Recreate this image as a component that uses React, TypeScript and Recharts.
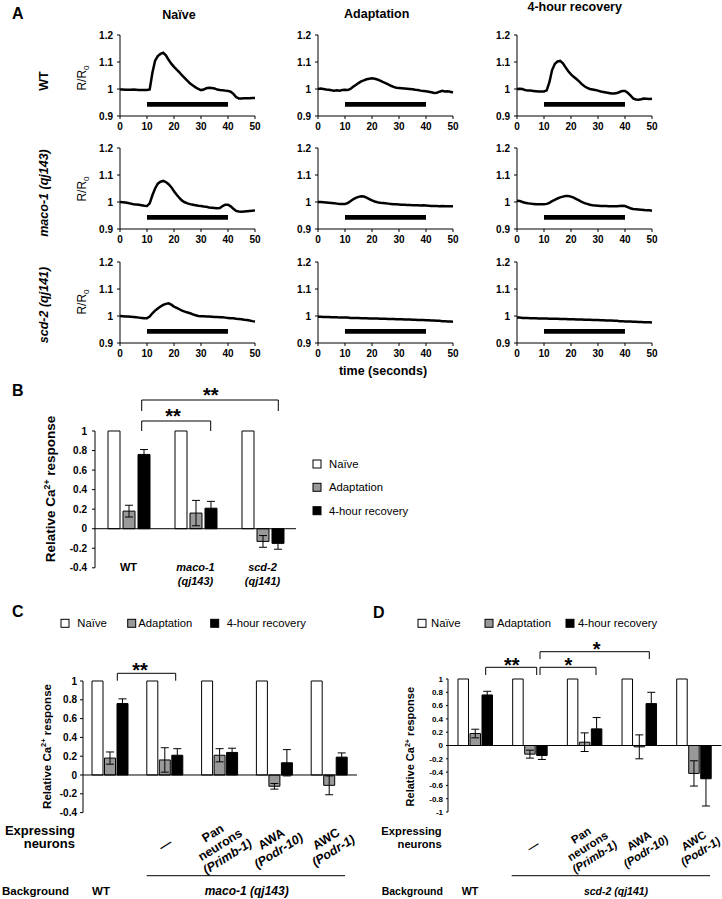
import {
  LineChart,
  Line,
  BarChart,
  Bar,
  ErrorBar,
  XAxis,
  YAxis,
  ReferenceArea,
  ReferenceLine,
} from 'recharts';

const FONT = '"Liberation Sans", Arial, Helvetica, sans-serif';

// ---------- panel A: calcium traces (R/R0 per second) ----------
const timeSec = [
  0, 1, 2, 3, 4, 5, 6, 7, 8, 9, 10, 11, 12, 13, 14, 15, 16, 17, 18, 19, 20, 21, 22, 23, 24, 25,
  26, 27, 28, 29, 30, 31, 32, 33, 34, 35, 36, 37, 38, 39, 40, 41, 42, 43, 44, 45, 46, 47, 48, 49, 50,
];
const timeTicks = [0, 10, 20, 30, 40, 50];
const ratioTicks = [0.9, 1, 1.1, 1.2];

const wtNaive = [
  0.998, 0.998, 0.997, 0.997, 0.997, 0.998, 0.997, 0.996, 0.996, 0.996,
  0.996, 0.998, 1.06, 1.105, 1.122, 1.13, 1.134, 1.125, 1.108, 1.094,
  1.082, 1.072, 1.062, 1.05, 1.04, 1.03, 1.02, 1.013, 1.006, 1.0,
  0.996, 0.998, 1.003, 1.005, 1.004, 1.002, 0.998, 0.996, 0.995, 0.994,
  0.993, 0.99, 0.982, 0.97, 0.965, 0.965, 0.966, 0.966, 0.966, 0.967,
  0.967,
];
const wtAdapt = [
  1.0, 1.002, 1.0, 0.998, 0.997, 0.995, 0.994, 0.995, 0.994, 0.996,
  0.997, 0.996, 1.0, 1.008, 1.015, 1.022, 1.028, 1.032, 1.036, 1.038,
  1.04, 1.038, 1.035, 1.031, 1.026, 1.022, 1.017, 1.012, 1.008, 1.005,
  1.004, 1.003, 1.002, 1.001, 1.0, 0.999, 0.997, 0.996, 0.994, 0.993,
  0.992, 0.99, 0.988, 0.985, 0.986, 0.99, 0.993, 0.991, 0.992, 0.99,
  0.987,
];
const wtRecovery = [
  1.0, 1.001, 1.0, 0.996, 0.994, 0.994, 0.993, 0.992, 0.991, 0.991,
  0.991, 0.995, 1.025, 1.07, 1.093, 1.102, 1.104, 1.095, 1.08, 1.066,
  1.054, 1.045, 1.037, 1.028, 1.018, 1.01, 1.004, 1.0, 0.998, 0.996,
  0.994, 0.991, 0.989, 0.987, 0.985, 0.983, 0.983, 0.985, 0.989, 0.993,
  0.993, 0.986, 0.976, 0.965, 0.961, 0.96, 0.962, 0.965, 0.964, 0.963,
  0.964,
];
const macoNaive = [
  1.0, 0.999, 0.998, 0.996, 0.994, 0.992, 0.991, 0.99, 0.988, 0.986,
  0.985, 0.995, 1.025, 1.05, 1.068, 1.075, 1.078, 1.074, 1.066, 1.055,
  1.04, 1.027, 1.015, 1.005, 0.999, 0.995, 0.992, 0.99, 0.988, 0.986,
  0.985, 0.983, 0.982, 0.98, 0.979, 0.978, 0.977, 0.978, 0.985, 0.99,
  0.99, 0.984, 0.975, 0.967, 0.965, 0.964, 0.965, 0.966, 0.967, 0.968,
  0.969,
];
const macoAdapt = [
  1.0, 1.0, 0.999, 0.998, 0.997, 0.996, 0.995, 0.994, 0.993, 0.993,
  0.993, 0.996, 1.003, 1.01, 1.015, 1.019, 1.021, 1.02, 1.016, 1.011,
  1.006, 1.002, 0.999, 0.997, 0.996, 0.995, 0.994, 0.993, 0.992, 0.992,
  0.991, 0.99, 0.99, 0.989, 0.989, 0.988, 0.988, 0.988, 0.987, 0.988,
  0.987, 0.986, 0.985, 0.985, 0.985, 0.984, 0.985, 0.984, 0.984, 0.984,
  0.984,
];
const macoRecovery = [
  1.005, 1.004, 1.0, 0.997, 0.995, 0.994, 0.993, 0.992, 0.992, 0.992,
  0.992, 0.993, 0.997, 1.003, 1.008, 1.013, 1.017, 1.02, 1.022, 1.022,
  1.02, 1.016, 1.011, 1.006, 1.0, 0.996, 0.993, 0.99, 0.988, 0.987,
  0.986, 0.985, 0.985, 0.985, 0.984, 0.984, 0.984, 0.984, 0.985, 0.986,
  0.985, 0.981, 0.977, 0.974, 0.973, 0.972, 0.971, 0.97, 0.969, 0.969,
  0.968,
];
const scdNaive = [
  1.0, 0.999, 0.998, 0.998, 0.997, 0.996, 0.995, 0.994, 0.993, 0.992,
  0.992, 0.998, 1.01, 1.02, 1.028, 1.035, 1.041, 1.045, 1.047, 1.042,
  1.035, 1.03, 1.025, 1.02, 1.016, 1.013, 1.01, 1.006, 1.003, 1.0,
  0.999, 0.999, 0.998, 0.998, 0.997, 0.996, 0.996, 0.995, 0.995, 0.994,
  0.993, 0.992, 0.992, 0.99, 0.989, 0.988, 0.986, 0.985, 0.983, 0.981,
  0.98,
];
const scdAdapt = [
  0.997, 0.997, 0.996, 0.996, 0.996, 0.995, 0.995, 0.995, 0.994, 0.994,
  0.994, 0.994, 0.993, 0.993, 0.993, 0.993, 0.992, 0.992, 0.992, 0.991,
  0.991, 0.991, 0.991, 0.99, 0.99, 0.99, 0.989, 0.989, 0.989, 0.988,
  0.988, 0.988, 0.987, 0.987, 0.987, 0.986, 0.986, 0.985, 0.985, 0.985,
  0.984, 0.984, 0.983, 0.983, 0.982, 0.982, 0.981, 0.981, 0.98, 0.98,
  0.979,
];
const scdRecovery = [
  0.994, 0.994, 0.993, 0.993, 0.993, 0.992, 0.992, 0.992, 0.991, 0.991,
  0.991, 0.991, 0.99, 0.99, 0.99, 0.99, 0.989, 0.989, 0.989, 0.988,
  0.988, 0.988, 0.987, 0.987, 0.987, 0.986, 0.986, 0.986, 0.985, 0.985,
  0.985, 0.984, 0.984, 0.983, 0.983, 0.983, 0.982, 0.982, 0.981, 0.981,
  0.98, 0.98, 0.98, 0.979, 0.979, 0.978, 0.978, 0.977, 0.977, 0.977,
  0.976,
];

const traceGrid = [
  [wtNaive, wtAdapt, wtRecovery],
  [macoNaive, macoAdapt, macoRecovery],
  [scdNaive, scdAdapt, scdRecovery],
];
const conditionTitles = ['Naïve', 'Adaptation', '4-hour recovery'];
const strainLabels = ['WT', 'maco-1 (qj143)', 'scd-2 (qj141)'];

// ---------- panel B ----------
const bGroups = ['WT', 'maco-1 (qj143)', 'scd-2 (qj141)'];
const bNaive = [1, 1, 1];
const bAdapt = [0.18, 0.16, -0.13];
const bAdaptErr = [0.06, 0.13, 0.06];
const bRecovery = [0.76, 0.21, -0.15];
const bRecoveryErr = [0.05, 0.07, 0.06];
const bTicks = [-0.4, -0.2, 0, 0.2, 0.4, 0.6, 0.8, 1];

// ---------- panel C ----------
const cGroups = ['WT', '—', 'Pan neurons (Primb-1)', 'AWA (Podr-10)', 'AWC (Podr-1)'];
const cNaive = [1, 1, 1, 1, 1];
const cAdapt = [0.18, 0.16, 0.21, -0.12, -0.11];
const cAdaptErr = [0.065, 0.13, 0.07, 0.03, 0.1];
const cRecovery = [0.76, 0.21, 0.24, 0.13, 0.19];
const cRecoveryErr = [0.05, 0.07, 0.045, 0.14, 0.045];
const cTicks = [-0.4, -0.2, 0, 0.2, 0.4, 0.6, 0.8, 1];

// ---------- panel D ----------
const dGroups = ['WT', '—', 'Pan neurons (Primb-1)', 'AWA (Podr-10)', 'AWC (Podr-1)'];
const dNaive = [1, 1, 1, 1, 1];
const dAdapt = [0.18, -0.13, 0.05, -0.02, -0.42];
const dAdaptErr = [0.065, 0.06, 0.14, 0.18, 0.19];
const dRecovery = [0.76, -0.15, 0.25, 0.63, -0.5];
const dRecoveryErr = [0.055, 0.06, 0.17, 0.17, 0.41];
const dTicks = [-1, -0.8, -0.6, -0.4, -0.2, 0, 0.2, 0.4, 0.6, 0.8, 1];

const expressLines = [[], ['—'], ['Pan', 'neurons', '(Primb-1)'], ['AWA', '(Podr-10)'], ['AWC', '(Podr-1)']];
const bTickLines = [['WT'], ['maco-1', '(qj143)'], ['scd-2', '(qj141)']];

const legendItems = [
  { label: 'Naïve', fill: '#fff' },
  { label: 'Adaptation', fill: '#999' },
  { label: '4-hour recovery', fill: '#000' },
];

const toRows = (names: string[], n: number[], a: number[], ae: number[], r: number[], re: number[]) =>
  names.map((name, i) => ({
    name,
    naive: n[i],
    adapt: a[i],
    adaptErr: ae[i],
    recovery: r[i],
    recoveryErr: re[i],
  }));

const bRows = toRows(bGroups, bNaive, bAdapt, bAdaptErr, bRecovery, bRecoveryErr);
const cRows = toRows(cGroups, cNaive, cAdapt, cAdaptErr, cRecovery, cRecoveryErr);
const dRows = toRows(dGroups, dNaive, dAdapt, dAdaptErr, dRecovery, dRecoveryErr);

// layout of the trace grid
const COL_X = [120, 318.3, 516.5];
const ROW_Y = [35, 148, 262];
const TRACE_W = 135;
const TRACE_H = 81;

function Trace({ values, col, row }: any) {
  const data = timeSec.map((t, i) => ({ t, r: values[i] }));
  return (
    <div style={{ position: 'absolute', left: COL_X[col] - 30, top: ROW_Y[row] - 5 }}>
      <LineChart
        width={30 + TRACE_W + 12}
        height={5 + TRACE_H + 22}
        data={data}
        margin={{ top: 5, right: 12, bottom: 0, left: 0 }}
      >
        <XAxis
          dataKey='t'
          type='number'
          domain={[0, 50]}
          ticks={timeTicks}
          interval={0}
          height={22}
          stroke='#000'
          tickSize={3}
          tickMargin={4}
          tick={{ fill: '#000', fontSize: 10, fontWeight: 700 }}
        />
        <YAxis
          type='number'
          domain={[0.9, 1.2]}
          ticks={ratioTicks}
          interval={0}
          width={30}
          stroke='#000'
          tickSize={3}
          tickMargin={4}
          tick={{ fill: '#000', fontSize: 10, fontWeight: 700 }}
        />
        <ReferenceArea x1={10} x2={40} y1={0.934} y2={0.952} fill='#000' fillOpacity={1} stroke='none' />
        <Line
          type='linear'
          dataKey='r'
          stroke='#000'
          strokeWidth={2.5}
          dot={false}
          isAnimationActive={false}
        />
      </LineChart>
    </div>
  );
}

const stackTick = (lines: string[][], dy: number, fs: number) => (props: any) => {
  const { x, y, index } = props;
  const ls = lines[index] || [];
  return (
    <text
      x={x}
      y={y + dy}
      textAnchor='middle'
      fontSize={fs}
      fontWeight={700}
      fill='#000'
      fontStyle={index > 0 ? 'italic' : 'normal'}
    >
      {ls.map((l, i) => (
        <tspan key={i} x={x} dy={i === 0 ? 0 : 14}>
          {l}
        </tspan>
      ))}
    </text>
  );
};

const slantTick = (lines: string[][], dx: number, dy: number, fs: number) => (props: any) => {
  const { x, y, index } = props;
  const ls = lines[index] || [];
  const lh = fs * 1.1;
  return (
    <g transform={`translate(${x + dx},${y + dy}) rotate(-32)`}>
      <text textAnchor='middle' fontSize={fs} fontWeight={700} fill='#000'>
        {ls.map((l, i) => (
          <tspan
            key={i}
            x={0}
            y={(i - (ls.length - 1) / 2) * lh + fs * 0.35}
            fontStyle={l.startsWith('(') ? 'italic' : 'normal'}
          >
            {l}
          </tspan>
        ))}
      </text>
    </g>
  );
};

function BarPanel(p: any) {
  const axisW = 40;
  return (
    <div style={{ position: 'absolute', left: p.left - axisW, top: p.top - 5 }}>
      <BarChart
        width={axisW + p.plotW + 1}
        height={5 + p.plotH + p.xHeight}
        data={p.rows}
        margin={{ top: 5, right: 1, bottom: 0, left: 0 }}
        barSize={p.barSize}
        barGap={p.barGap}
      >
        <XAxis
          dataKey='name'
          interval={0}
          axisLine={false}
          tickLine={false}
          tickSize={0}
          tickMargin={0}
          height={p.xHeight}
          tick={p.tick}
        />
        <YAxis
          type='number'
          domain={p.domain}
          ticks={p.ticks}
          interval={0}
          width={axisW}
          stroke='#000'
          tickSize={p.tickSize}
          tickMargin={p.tickMargin}
          tick={{ fill: '#000', fontSize: p.tickFont, fontWeight: 700 }}
        />
        <Bar dataKey='naive' fill='#fff' stroke='#000' strokeWidth={1} isAnimationActive={false} />
        <Bar dataKey='adapt' fill='#999' stroke='#000' strokeWidth={1} isAnimationActive={false}>
          <ErrorBar dataKey='adaptErr' width={4} stroke='#000' strokeWidth={1} />
        </Bar>
        <Bar dataKey='recovery' fill='#000' stroke='#000' strokeWidth={1} isAnimationActive={false}>
          <ErrorBar dataKey='recoveryErr' width={4} stroke='#000' strokeWidth={1} />
        </Bar>
        <ReferenceLine y={0} stroke='#000' strokeWidth={1} />
      </BarChart>
    </div>
  );
}

function Bracket({ x1, x2, y, leg, stars, sx, sy }: any) {
  return (
    <g>
      <path d={`M${x1},${y + leg} V${y} H${x2} V${y + leg}`} fill='none' stroke='#000' strokeWidth={1} />
      <text x={sx} y={sy + 11.5} textAnchor='middle' fontSize={20} fontWeight={700}>
        {stars}
      </text>
    </g>
  );
}

function CaLabel({ x, y, fs }: any) {
  return (
    <text transform={`translate(${x + fs * 0.36},${y}) rotate(-90)`} textAnchor='middle' fontSize={fs} fontWeight={700}>
      Relative Ca
      <tspan fontSize={fs * 0.65} dy={-fs * 0.38}>
        2+
      </tspan>
      <tspan dy={fs * 0.38}> response</tspan>
    </text>
  );
}

function LegendRow({ items }: any) {
  return (
    <g>
      {items.map((it: any) => (
        <g key={it.label}>
          <rect x={it.sx} y={it.cy - 4} width={8} height={8} fill={it.fill} stroke='#000' strokeWidth={1} />
          <text x={it.tx} y={it.cy + 4} fontSize={11.3}>
            {it.label}
          </text>
        </g>
      ))}
    </g>
  );
}

function Overlay() {
  const titleX = [179, 376.7, 574.7];
  const titleY = [18.5, 17.8, 11];
  const rowLabelY = [81, 193, 305];
  const rrY = [78, 189, 302];
  const bLegend = legendItems.map((it, i) => ({ ...it, sx: 313, tx: 329, cy: [464, 487.3, 510.7][i] }));
  const cLegend = legendItems.map((it, i) => ({ ...it, sx: [61, 127.7, 210.7][i], tx: [77.3, 138.3, 226.7][i], cy: 623.3 }));
  const dLegend = legendItems.map((it, i) => ({ ...it, sx: [418, 485, 566][i], tx: [431, 497, 578][i], cy: 623.3 }));
  return (
    <svg width={722} height={899} style={{ position: 'absolute', left: 0, top: 0, pointerEvents: 'none' }}>
      <g fill='#000'>
        <text x={12} y={18.7} fontSize={16} fontWeight={700}>A</text>
        <text x={12} y={396.4} fontSize={16} fontWeight={700}>B</text>
        <text x={12} y={617.4} fontSize={16} fontWeight={700}>C</text>
        <text x={373} y={617.7} fontSize={16} fontWeight={700}>D</text>

        {conditionTitles.map((t, i) => (
          <text key={t} x={titleX[i]} y={titleY[i]} textAnchor='middle' fontSize={12.5} fontWeight={700}>
            {t}
          </text>
        ))}
        {strainLabels.map((s, i) => (
          <text
            key={s}
            transform={`translate(47.5,${rowLabelY[i]}) rotate(-90)`}
            textAnchor='middle'
            fontSize={12.5}
            fontWeight={700}
            fontStyle={i > 0 ? 'italic' : 'normal'}
          >
            {s}
          </text>
        ))}
        {rrY.map((y) => (
          <text key={y} transform={`translate(86,${y}) rotate(-90)`} textAnchor='middle' fontSize={12}>
            R/R
            <tspan fontSize={8} dy={3}>0</tspan>
          </text>
        ))}
        <text x={383} y={374.5} textAnchor='middle' fontSize={12.5} fontWeight={700}>
          time (seconds)
        </text>

        <CaLabel x={50} y={489} fs={13.5} />
        <CaLabel x={46.7} y={746.5} fs={11.5} />
        <CaLabel x={410} y={746.7} fs={11} />

        <LegendRow items={bLegend} />
        <LegendRow items={cLegend} />
        <LegendRow items={dLegend} />

        <Bracket x1={141.7} x2={278.3} y={400} leg={11} stars='**' sx={210.7} sy={390} />
        <Bracket x1={141.7} x2={210.7} y={421} leg={10} stars='**' sx={173} sy={411.7} />
        <Bracket x1={117.3} x2={175.7} y={673.3} leg={7.4} stars='**' sx={140} sy={665} />
        <Bracket x1={485.7} x2={536.7} y={667.3} leg={7.7} stars='**' sx={511.7} sy={660} />
        <Bracket x1={540} x2={596} y={667.3} leg={7.7} stars='*' sx={568.3} sy={660.7} />
        <Bracket x1={540} x2={649.3} y={651.7} leg={7.3} stars='*' sx={596.7} sy={644} />

        <text x={75} y={834.7} textAnchor='end' fontSize={13} fontWeight={700}>Expressing</text>
        <text x={75} y={848.3} textAnchor='end' fontSize={13} fontWeight={700}>neurons</text>
        <text x={2} y={895} fontSize={11.5} fontWeight={700}>Background</text>
        <text x={101} y={895} textAnchor='middle' fontSize={11.5} fontWeight={700}>WT</text>
        <text x={246.7} y={895} textAnchor='middle' fontSize={12} fontWeight={700} fontStyle='italic'>
          maco-1 (qj143)
        </text>
        <line x1={146.7} x2={345} y1={875.7} y2={875.7} stroke='#000' strokeWidth={1} />

        <text x={441.7} y={834.5} textAnchor='end' fontSize={11.2} fontWeight={700}>Expressing</text>
        <text x={441.7} y={848} textAnchor='end' fontSize={11.2} fontWeight={700}>neurons</text>
        <text x={381.7} y={895} fontSize={10.5} fontWeight={700}>Background</text>
        <text x={470} y={895} textAnchor='middle' fontSize={10.7} fontWeight={700}>WT</text>
        <text x={616} y={895} textAnchor='middle' fontSize={10.5} fontWeight={700} fontStyle='italic'>
          scd-2 (qj141)
        </text>
        <line x1={511.7} x2={710} y1={875.7} y2={875.7} stroke='#000' strokeWidth={1} />
      </g>
    </svg>
  );
}

export default function App() {
  return (
    <div
      style={{
        position: 'absolute',
        left: 0,
        top: 0,
        width: 722,
        height: 899,
        overflow: 'hidden',
        background: '#fff',
        fontFamily: FONT,
      }}
    >
      {traceGrid.map((rowVals, row) =>
        rowVals.map((values, col) => <Trace key={`${row}-${col}`} values={values} col={col} row={row} />)
      )}

      <BarPanel
        rows={bRows}
        left={95}
        top={430.5}
        plotW={201}
        plotH={136.8}
        domain={[-0.4, 1]}
        ticks={bTicks}
        barSize={12}
        barGap={3}
        tickFont={10}
        tickSize={3}
        tickMargin={5}
        xHeight={40}
        tick={stackTick(bTickLines, 3.7, 11)}
      />
      <BarPanel
        rows={cRows}
        left={82.7}
        top={680.7}
        plotW={274}
        plotH={131.6}
        domain={[-0.4, 1]}
        ticks={cTicks}
        barSize={11}
        barGap={1.5}
        tickFont={10}
        tickSize={3}
        tickMargin={3}
        xHeight={82}
        tick={slantTick(expressLines, 0, 32, 12.5)}
      />
      <BarPanel
        rows={dRows}
        left={448.3}
        top={679}
        plotW={273.4}
        plotH={133}
        domain={[-1, 1]}
        ticks={dTicks}
        barSize={10.5}
        barGap={1.5}
        tickFont={8}
        tickSize={2}
        tickMargin={3}
        xHeight={82}
        tick={slantTick(expressLines, 3, 34, 11.5)}
      />

      <Overlay />
    </div>
  );
}
